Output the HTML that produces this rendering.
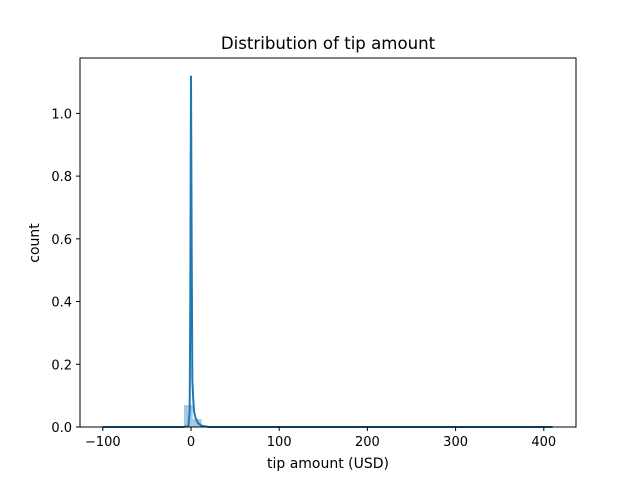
<!DOCTYPE html>
<html><head><meta charset="utf-8"><style>
body{margin:0;background:#fff;font-family:"Liberation Sans","DejaVu Sans",sans-serif}
</style></head><body>
<svg width="640" height="480" xmlns="http://www.w3.org/2000/svg">
<rect width="640" height="480" fill="#fff"/>
<text x="328" y="49" text-anchor="middle" font-size="16.6" font-family="DejaVu Sans, sans-serif">Distribution of tip amount</text>
<g id="plot"></g>
<rect x="80" y="58" width="496" height="369" fill="none" stroke="#000" stroke-width="1"/>
<g id="ticks" font-size="13" font-family="DejaVu Sans, sans-serif"></g>
<text x="328" y="468" text-anchor="middle" font-size="14" font-family="DejaVu Sans, sans-serif">tip amount (USD)</text>
<text transform="translate(39,243) rotate(-90)" text-anchor="middle" font-size="14" font-family="DejaVu Sans, sans-serif">count</text>
</svg>
<script>
const binEdges=[-8,2,12,22];
const binHeights=[0.07,0.025,0.001];
const kdeX=[-100,-10,-3,-1.5,-0.8,0,0.8,1.5,2.5,3.5,5,8,12,20,410];
const kdeY=[0,0,0.002,0.05,0.4,1.12,0.55,0.15,0.09,0.05,0.03,0.012,0.004,0,0];
const xTicks=[-100,0,100,200,300,400];
const yTicks=[0,0.2,0.4,0.6,0.8,1.0];
const yTickLabels=["0.0","0.2","0.4","0.6","0.8","1.0"];
const NS="http://www.w3.org/2000/svg";
const sx=v=>191+v*0.882;
const sy=v=>427-v*313.6;
const plot=document.getElementById('plot');
binHeights.forEach((h,i)=>{
  const r=document.createElementNS(NS,'rect');
  r.setAttribute('x',sx(binEdges[i]));
  r.setAttribute('width',sx(binEdges[i+1])-sx(binEdges[i]));
  r.setAttribute('y',sy(h));
  r.setAttribute('height',427-sy(h));
  r.setAttribute('fill','rgba(31,119,180,0.4)');
  
  
  plot.appendChild(r);
});
const p=document.createElementNS(NS,'path');
p.setAttribute('d',kdeX.map((x,i)=>(i?'L':'M')+sx(x)+','+sy(kdeY[i])).join(''));
p.setAttribute('fill','none');p.setAttribute('stroke','#1f77b4');p.setAttribute('stroke-width','2');


plot.appendChild(p);
const t=document.getElementById('ticks');
xTicks.forEach(v=>{
  const l=document.createElementNS(NS,'line');
  l.setAttribute('x1',sx(v));l.setAttribute('x2',sx(v));l.setAttribute('y1',427);l.setAttribute('y2',431);l.setAttribute('stroke','#000');
  
  
  t.appendChild(l);
  const tx=document.createElementNS(NS,'text');
  tx.setAttribute('x',sx(v));tx.setAttribute('y',446);tx.setAttribute('text-anchor','middle');
  tx.textContent=v<0?'\u2212'+(-v):String(v);
  
  
  t.appendChild(tx);
});
yTicks.forEach((v,i)=>{
  const l=document.createElementNS(NS,'line');
  l.setAttribute('x1',76);l.setAttribute('x2',80);l.setAttribute('y1',sy(v));l.setAttribute('y2',sy(v));l.setAttribute('stroke','#000');
  
  
  t.appendChild(l);
  const tx=document.createElementNS(NS,'text');
  tx.setAttribute('x',72);tx.setAttribute('y',sy(v)+5);tx.setAttribute('text-anchor','end');
  tx.textContent=yTickLabels[i];
  
  
  t.appendChild(tx);
});
</script>
</body></html>
